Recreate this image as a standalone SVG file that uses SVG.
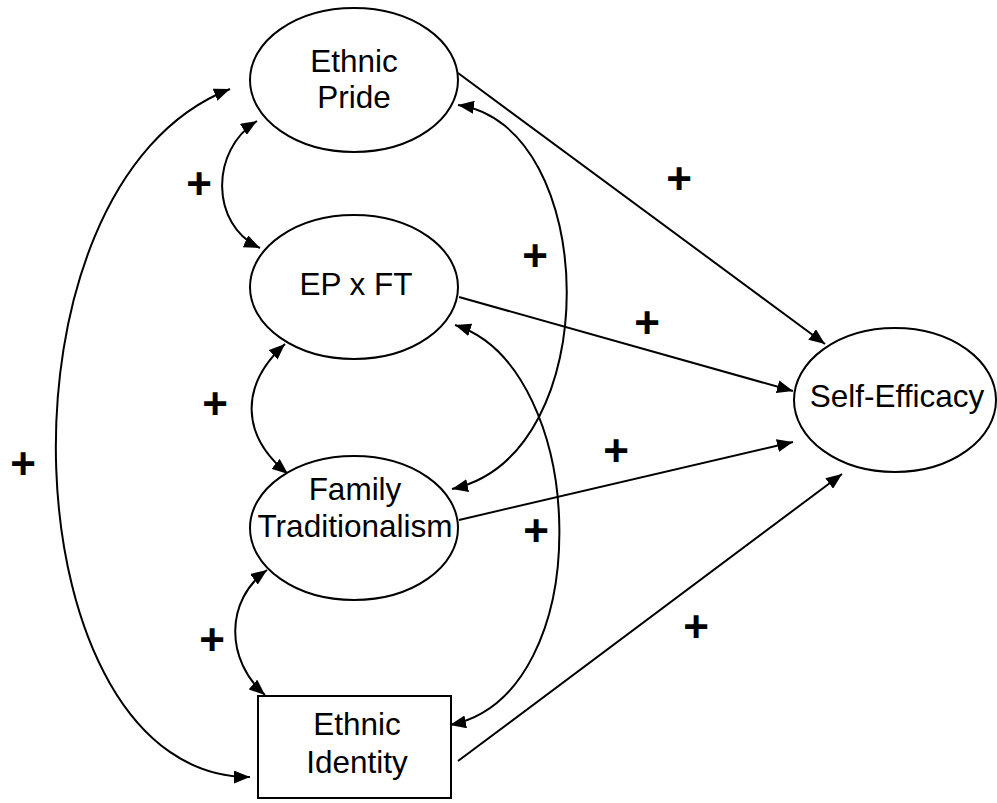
<svg xmlns="http://www.w3.org/2000/svg" width="997" height="803" viewBox="0 0 997 803">
<style>
.node{fill:#fff;stroke:#000;stroke-width:2}
.lbl{font-family:"Liberation Sans",Arial,sans-serif;font-size:31.5px;fill:#000;text-anchor:middle}
.c{fill:none;stroke:#000;stroke-width:2}
.plus{font-family:"Liberation Sans",Arial,sans-serif;font-size:44px;font-weight:bold;fill:#000;text-anchor:middle}
</style>
<defs>
<marker id="ah" viewBox="0 0 16 13" refX="16" refY="6.5" markerWidth="16" markerHeight="13" markerUnits="userSpaceOnUse" orient="auto-start-reverse">
<path d="M0,0 L16,6.5 L0,13 z" fill="#000"/>
</marker>
</defs>
<rect width="997" height="803" fill="#fff"/>
<g id="connectors">
<line class="c" x1="458" y1="73" x2="825" y2="344" marker-end="url(#ah)"/>
<line class="c" x1="459" y1="297" x2="793" y2="391" marker-end="url(#ah)"/>
<line class="c" x1="459" y1="520" x2="793" y2="442" marker-end="url(#ah)"/>
<line class="c" x1="458" y1="761" x2="842" y2="474" marker-end="url(#ah)"/>
<path class="c" d="M230,89 C-18,185 8,778 250,777" marker-start="url(#ah)" marker-end="url(#ah)"/>
<path class="c" d="M257,121 C210,150 210,225 260,248" marker-start="url(#ah)" marker-end="url(#ah)"/>
<path class="c" d="M285,344 C240,385 240,435 288,474" marker-start="url(#ah)" marker-end="url(#ah)"/>
<path class="c" d="M267,570 C225,600 225,660 265,695" marker-start="url(#ah)" marker-end="url(#ah)"/>
<path class="c" d="M458,105 C600,125 608,455 452,489" marker-start="url(#ah)" marker-end="url(#ah)"/>
<path class="c" d="M455,325 C590,368 600,695 450,725" marker-start="url(#ah)" marker-end="url(#ah)"/>
</g>
<g id="ethnic-pride">
<ellipse class="node" cx="354" cy="80" rx="104" ry="72"/>
<text class="lbl" x="354" y="72">Ethnic</text>
<text class="lbl" x="354" y="108">Pride</text>
</g>
<g id="ep-x-ft">
<ellipse class="node" cx="354" cy="287" rx="104" ry="72"/>
<text class="lbl" x="356" y="295">EP x FT</text>
</g>
<g id="family-traditionalism">
<ellipse class="node" cx="354" cy="528" rx="104" ry="72"/>
<text class="lbl" x="355" y="500">Family</text>
<text class="lbl" x="355" y="537">Traditionalism</text>
</g>
<g id="ethnic-identity">
<rect class="node" x="258" y="696" width="193" height="102"/>
<text class="lbl" x="357" y="735">Ethnic</text>
<text class="lbl" x="357" y="773">Identity</text>
</g>
<g id="self-efficacy">
<ellipse class="node" cx="895" cy="400" rx="101" ry="72"/>
<text class="lbl" x="897" y="407">Self-Efficacy</text>
</g>
<g id="signs">
<text class="plus" x="199" y="199">+</text>
<text class="plus" x="679" y="194">+</text>
<text class="plus" x="535" y="271">+</text>
<text class="plus" x="647" y="338">+</text>
<text class="plus" x="215" y="419">+</text>
<text class="plus" x="23" y="479">+</text>
<text class="plus" x="616" y="466">+</text>
<text class="plus" x="536" y="546">+</text>
<text class="plus" x="696" y="642">+</text>
<text class="plus" x="212" y="655">+</text>
</g>
</svg>
